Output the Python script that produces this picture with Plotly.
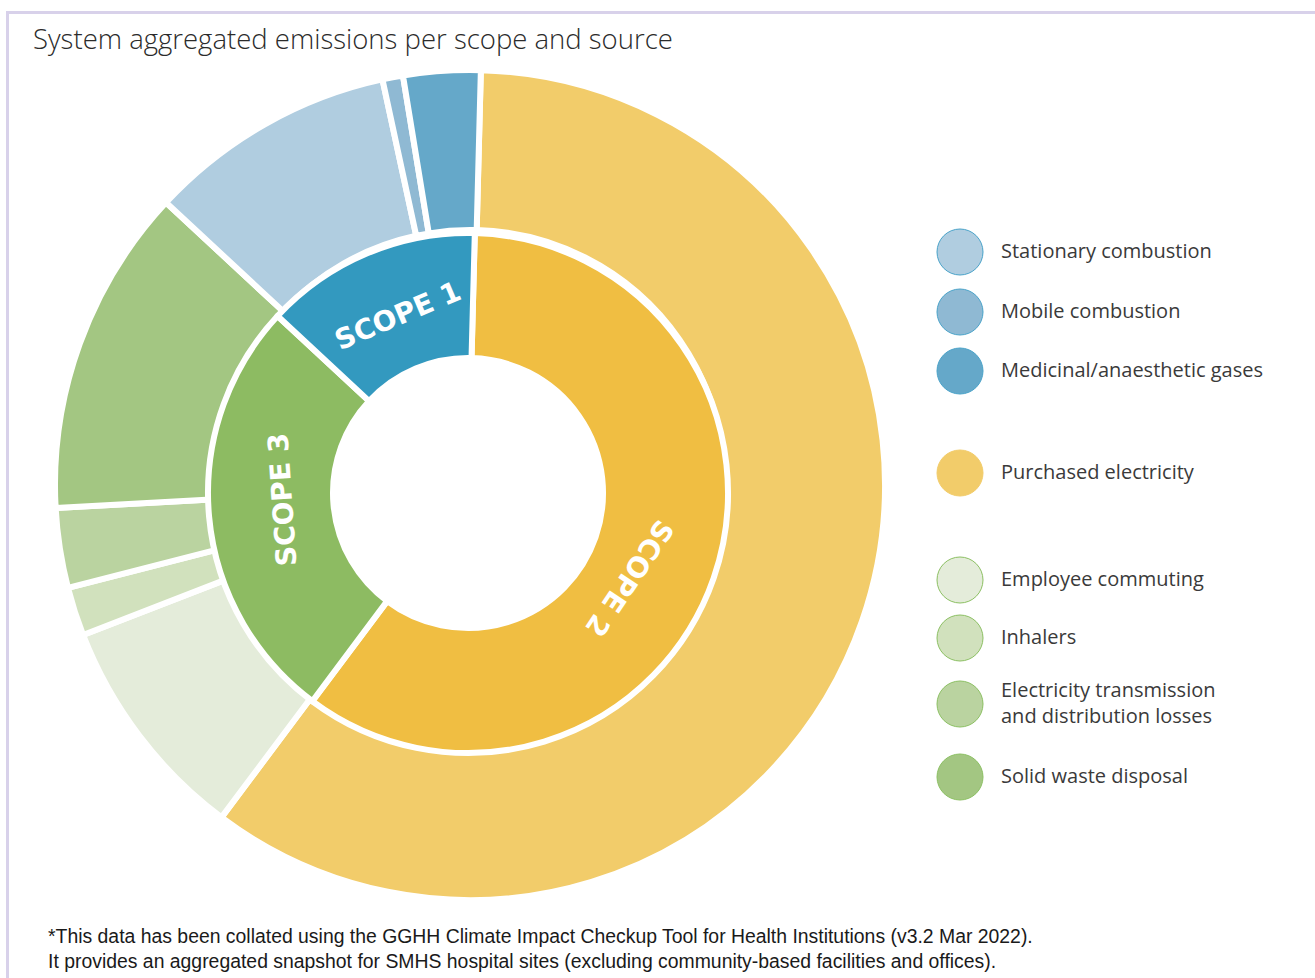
import math
import plotly.graph_objects as go

# ---------------- data ----------------
source_labels = [
    "Purchased electricity",
    "Employee commuting",
    "Inhalers",
    "Electricity transmission and distribution losses",
    "Solid waste disposal",
    "Stationary combustion",
    "Mobile combustion",
    "Medicinal/anaesthetic gases",
]
source_values = [59.8, 8.9, 1.9, 3.1, 12.8, 9.7, 0.8, 3.0]  # % of total emissions
source_scope = ["SCOPE 2", "SCOPE 3", "SCOPE 3", "SCOPE 3", "SCOPE 3",
                "SCOPE 1", "SCOPE 1", "SCOPE 1"]
source_colors = ["#f2cc6a", "#e4ecda", "#d1e1bd", "#bad3a0", "#a3c682",
                 "#b0cde0", "#8fb9d3", "#65a8c9"]

scope_labels = ["SCOPE 2", "SCOPE 3", "SCOPE 1"]
scope_colors = ["#f0be42", "#8dbb62", "#3399bf"]
scope_values = [round(sum(v for v, s in zip(source_values, source_scope) if s == sc), 2)
                for sc in scope_labels]

legend_labels = [
    "Stationary combustion",
    "Mobile combustion",
    "Medicinal/anaesthetic gases",
    "Purchased electricity",
    "Employee commuting",
    "Inhalers",
    "Electricity transmission<br>and distribution losses",
    "Solid waste disposal",
]
legend_fill = ["#b0cde0", "#8fb9d3", "#65a8c9", "#f2cc6a",
               "#e4ecda", "#d1e1bd", "#bad3a0", "#a3c682"]
legend_edge = ["#4aa3c9", "#4aa3c9", "#4aa3c9", "#f2cc6a",
               "#8cc063", "#8cc063", "#8cc063", "#8cc063"]

title_text = "System aggregated emissions per scope and source"
footnote_lines = [
    "*This data has been collated using the GGHH Climate Impact Checkup Tool for Health Institutions (v3.2 Mar 2022).",
    "It provides an aggregated snapshot for SMHS hospital sites (excluding community-based facilities and offices).",
]

# ---------------- layout geometry (pixels) ----------------
W, H = 1315, 978
def fx(px):
    return px / W
def fy(py):
    return 1 - py / H

OUT_CX, OUT_CY, OUT_R, OUT_HOLE_R = 470, 485, 415, 255
IN_CX, IN_CY, IN_R, IN_HOLE_R = 468, 493, 260, 135
START_ANGLE = 1.5

fig = go.Figure()

fig.add_trace(go.Pie(
    labels=source_labels, values=source_values,
    sort=False, direction="clockwise", rotation=START_ANGLE,
    hole=OUT_HOLE_R / OUT_R,
    marker=dict(colors=source_colors, line=dict(color="white", width=6)),
    textinfo="none", showlegend=False,
    domain=dict(x=[fx(OUT_CX - OUT_R), fx(OUT_CX + OUT_R)],
                y=[fy(OUT_CY + OUT_R), fy(OUT_CY - OUT_R)]),
))

fig.add_trace(go.Pie(
    labels=scope_labels, values=scope_values,
    sort=False, direction="clockwise", rotation=START_ANGLE,
    hole=IN_HOLE_R / IN_R,
    marker=dict(colors=scope_colors, line=dict(color="white", width=6)),
    textinfo="none", showlegend=False,
    domain=dict(x=[fx(IN_CX - IN_R), fx(IN_CX + IN_R)],
                y=[fy(IN_CY + IN_R), fy(IN_CY - IN_R)]),
))

annotations = []
shapes = []

# scope labels on inner ring (angle clockwise from 12 o'clock, radius, text rotation)
label_pos = {"SCOPE 2": (117.7, 183, 124), "SCOPE 3": (267.8, 186, -94), "SCOPE 1": (338.5, 191, -23)}
for lab in scope_labels:
    ang, rad, rot = label_pos[lab]
    px = IN_CX + rad * math.sin(math.radians(ang))
    py = IN_CY - rad * math.cos(math.radians(ang))
    annotations.append(dict(
        x=fx(px), y=fy(py), xref="paper", yref="paper",
        text=lab, showarrow=False, textangle=rot,
        xanchor="center", yanchor="middle",
        font=dict(family="DejaVu Sans", size=28, color="white", weight="bold"),
    ))

# custom legend
legend_y = [252, 312, 371, 473, 580, 638, 704, 777]
for lab, fc, ec, ly in zip(legend_labels, legend_fill, legend_edge, legend_y):
    shapes.append(dict(type="circle", xref="paper", yref="paper",
                       x0=fx(937), x1=fx(983), y0=fy(ly + 23), y1=fy(ly - 23),
                       fillcolor=fc, line=dict(color=ec, width=1)))
    annotations.append(dict(
        x=fx(999), y=fy(ly - 2), xref="paper", yref="paper",
        text=lab, showarrow=False, xanchor="left", yanchor="middle", align="left",
        font=dict(family="Open Sans", size=20, color="#3a3a3a"),
    ))

# title
annotations.append(dict(
    x=fx(31), y=fy(39), xref="paper", yref="paper", text=title_text,
    showarrow=False, xanchor="left", yanchor="middle",
    font=dict(family="Open Sans", size=27.5, color="#2b2b2b", weight=300),
))

# footnote
for i, line in enumerate(footnote_lines):
    annotations.append(dict(
        x=fx(46), y=fy(936 + 25 * i), xref="paper", yref="paper", text=line,
        showarrow=False, xanchor="left", yanchor="middle",
        font=dict(family="Liberation Sans, Arial", size=19.4, color="#1a1a1a"),
    ))

# frame lines
shapes.append(dict(type="line", xref="paper", yref="paper",
                   x0=fx(7), x1=1, y0=fy(12.5), y1=fy(12.5),
                   line=dict(color="#d8d1ea", width=3)))
shapes.append(dict(type="line", xref="paper", yref="paper",
                   x0=fx(7.5), x1=fx(7.5), y0=fy(11), y1=0,
                   line=dict(color="#d8d1ea", width=3)))

fig.update_layout(
    width=W, height=H,
    margin=dict(l=0, r=0, t=0, b=0),
    paper_bgcolor="white", plot_bgcolor="white",
    showlegend=False,
    annotations=annotations, shapes=shapes,
)

fig.write_html("out.html")
